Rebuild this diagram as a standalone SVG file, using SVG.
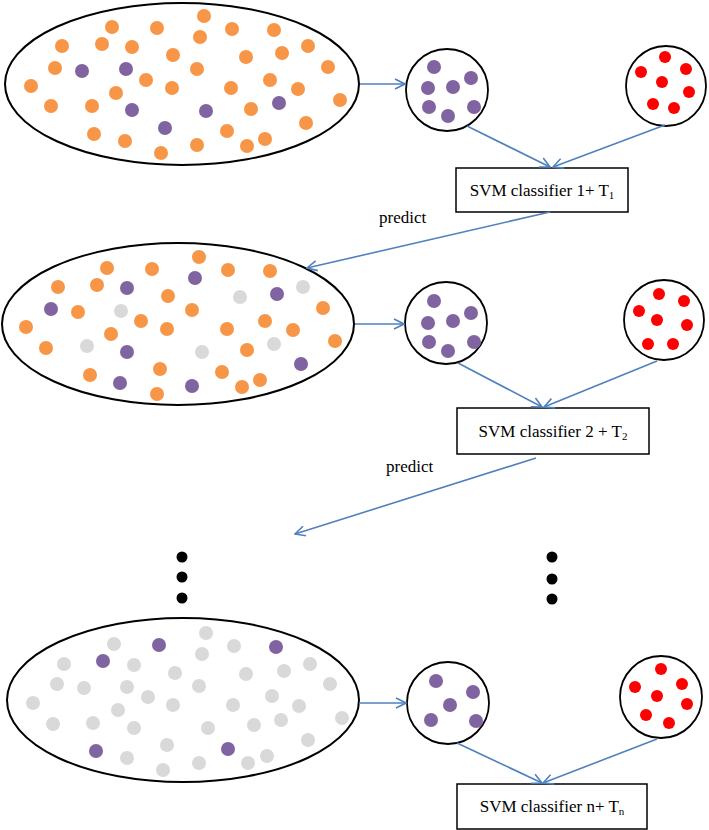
<svg xmlns="http://www.w3.org/2000/svg" width="709" height="830" viewBox="0 0 709 830">
<style>
.bg{fill:#fff}
.pool{fill:#fff;stroke:#000;stroke-width:2}
.set{fill:#fff;stroke:#000;stroke-width:1.8}
.box{fill:#fff;stroke:#000;stroke-width:1.5}
.o{fill:#F79646}
.p{fill:#8064A2}
.g{fill:#D9D9D9}
.r{fill:#FF0000}
.k{fill:#000}
.lbl{font-family:"Liberation Serif","Times New Roman",serif;font-size:17px;fill:#000}
.sub{font-size:11px}
.conn{stroke:#4F81BD;stroke-width:1.6;fill:none;marker-end:url(#ah)}
</style>
<defs>
<marker id="ah" viewBox="0 0 12 12" refX="11" refY="6" markerWidth="12" markerHeight="12" markerUnits="userSpaceOnUse" orient="auto">
<path d="M1,1 L11,6 L1,11" fill="none" stroke="#4F81BD" stroke-width="1.6"/>
</marker>
</defs>
<rect class="bg" x="0" y="0" width="709" height="830"/>

<g id="pool1">
<ellipse class="pool" cx="182" cy="84" rx="177" ry="81"/>
<g class="o">
<circle cx="204" cy="16" r="7"/><circle cx="112" cy="27" r="7"/><circle cx="157" cy="28" r="7"/><circle cx="232" cy="29" r="7"/><circle cx="274" cy="30" r="7"/><circle cx="200" cy="37" r="7"/><circle cx="62" cy="46" r="7"/><circle cx="102" cy="44" r="7"/><circle cx="132" cy="47" r="7"/><circle cx="308" cy="46" r="7"/><circle cx="173" cy="55" r="7"/><circle cx="246" cy="57" r="7"/><circle cx="282" cy="53" r="7"/><circle cx="55" cy="68" r="7"/><circle cx="197" cy="69" r="7"/><circle cx="328" cy="67" r="7"/><circle cx="146" cy="80" r="7"/><circle cx="270" cy="80" r="7"/><circle cx="31" cy="86" r="7"/><circle cx="172" cy="88" r="7"/><circle cx="231" cy="88" r="7"/><circle cx="298" cy="89" r="7"/><circle cx="116" cy="93" r="7"/><circle cx="51" cy="106" r="7"/><circle cx="92" cy="106" r="7"/><circle cx="251" cy="109" r="7"/><circle cx="340" cy="100" r="7"/><circle cx="306" cy="123" r="7"/><circle cx="227" cy="131" r="7"/><circle cx="94" cy="134" r="7"/><circle cx="125" cy="141" r="7"/><circle cx="197" cy="145" r="7"/><circle cx="265" cy="139" r="7"/><circle cx="247" cy="146" r="7"/><circle cx="161" cy="153" r="7"/>
</g>
<g class="p">
<circle cx="82" cy="71" r="7"/><circle cx="126" cy="69" r="7"/><circle cx="132" cy="110" r="7"/><circle cx="206" cy="111" r="7"/><circle cx="279" cy="103" r="7"/><circle cx="165" cy="128" r="7"/>
</g>
</g>

<g id="pos1">
<circle class="set" cx="447" cy="90" r="41"/>
<g class="p">
<circle cx="434" cy="67" r="7"/><circle cx="471" cy="78" r="7"/><circle cx="428" cy="88" r="7"/><circle cx="453" cy="87" r="7"/><circle cx="429" cy="107" r="7"/><circle cx="474" cy="107" r="7"/><circle cx="448" cy="116" r="7"/>
</g>
</g>

<g id="neg1">
<circle class="set" cx="666" cy="86" r="40"/>
<g class="r">
<circle cx="665" cy="57" r="6"/><circle cx="686" cy="69" r="6"/><circle cx="641" cy="72" r="6"/><circle cx="662" cy="82" r="6"/><circle cx="689" cy="92" r="6"/><circle cx="653" cy="104" r="6"/><circle cx="674" cy="108" r="6"/>
</g>
</g>

<g id="box1">
<rect class="box" x="456" y="168" width="172" height="44"/>
<text class="lbl" x="542" y="196" text-anchor="middle">SVM classifier 1+ T<tspan class="sub" dy="3">1</tspan></text>
</g>

<g id="label-predict1"><text class="lbl" x="379" y="223">predict</text></g>

<g id="pool2">
<ellipse class="pool" cx="178" cy="324" rx="176" ry="81"/>
<g class="o">
<circle cx="199" cy="257" r="7"/><circle cx="107" cy="268" r="7"/><circle cx="152" cy="269" r="7"/><circle cx="228" cy="270" r="7"/><circle cx="270" cy="271" r="7"/><circle cx="58" cy="287" r="7"/><circle cx="97" cy="285" r="7"/><circle cx="168" cy="296" r="7"/><circle cx="78" cy="312" r="7"/><circle cx="192" cy="310" r="7"/><circle cx="323" cy="308" r="7"/><circle cx="141" cy="321" r="7"/><circle cx="265" cy="321" r="7"/><circle cx="26" cy="327" r="7"/><circle cx="167" cy="329" r="7"/><circle cx="227" cy="329" r="7"/><circle cx="293" cy="330" r="7"/><circle cx="111" cy="334" r="7"/><circle cx="46" cy="348" r="7"/><circle cx="247" cy="350" r="7"/><circle cx="335" cy="341" r="7"/><circle cx="160" cy="369" r="7"/><circle cx="90" cy="375" r="7"/><circle cx="222" cy="372" r="7"/><circle cx="260" cy="380" r="7"/><circle cx="242" cy="387" r="7"/><circle cx="157" cy="394" r="7"/>
</g>
<g class="p">
<circle cx="195" cy="278" r="7"/><circle cx="127" cy="288" r="7"/><circle cx="277" cy="294" r="7"/><circle cx="51" cy="309" r="7"/><circle cx="127" cy="352" r="7"/><circle cx="301" cy="364" r="7"/><circle cx="120" cy="383" r="7"/><circle cx="192" cy="386" r="7"/>
</g>
<g class="g">
<circle cx="303" cy="287" r="7"/><circle cx="240" cy="297" r="7"/><circle cx="121" cy="311" r="7"/><circle cx="87" cy="346" r="7"/><circle cx="202" cy="352" r="7"/><circle cx="274" cy="344" r="7"/>
</g>
</g>

<g id="pos2">
<circle class="set" cx="446" cy="323" r="41"/>
<g class="p">
<circle cx="434" cy="301" r="7"/><circle cx="471" cy="313" r="7"/><circle cx="428" cy="323" r="7"/><circle cx="453" cy="321" r="7"/><circle cx="429" cy="342" r="7"/><circle cx="474" cy="342" r="7"/><circle cx="448" cy="351" r="7"/>
</g>
</g>

<g id="neg2">
<circle class="set" cx="664" cy="320" r="40"/>
<g class="r">
<circle cx="659" cy="294" r="6"/><circle cx="684" cy="301" r="6"/><circle cx="639" cy="311" r="6"/><circle cx="657" cy="320" r="6"/><circle cx="687" cy="325" r="6"/><circle cx="648" cy="344" r="6"/><circle cx="673" cy="344" r="6"/>
</g>
</g>

<g id="box2">
<rect class="box" x="457" y="408" width="192" height="46"/>
<text class="lbl" x="553" y="437" text-anchor="middle">SVM classifier 2 + T<tspan class="sub" dy="3">2</tspan></text>
</g>

<g id="label-predict2"><text class="lbl" x="386" y="472">predict</text></g>

<g id="ellipsis-left" class="k">
<circle cx="182" cy="557" r="5.5"/><circle cx="182" cy="577" r="5.5"/><circle cx="182" cy="598" r="5.5"/>
</g>
<g id="ellipsis-right" class="k">
<circle cx="552" cy="557" r="5.5"/><circle cx="552" cy="579" r="5.5"/><circle cx="552" cy="599" r="5.5"/>
</g>

<g id="pool3">
<ellipse class="pool" cx="183" cy="700" rx="176" ry="82"/>
<g class="g">
<circle cx="206" cy="633" r="7"/><circle cx="114" cy="644" r="7"/><circle cx="234" cy="646" r="7"/><circle cx="202" cy="654" r="7"/><circle cx="64" cy="664" r="7"/><circle cx="134" cy="665" r="7"/><circle cx="310" cy="664" r="7"/><circle cx="175" cy="673" r="7"/><circle cx="246" cy="674" r="7"/><circle cx="284" cy="671" r="7"/><circle cx="57" cy="684" r="7"/><circle cx="84" cy="688" r="7"/><circle cx="127" cy="687" r="7"/><circle cx="199" cy="686" r="7"/><circle cx="330" cy="684" r="7"/><circle cx="148" cy="697" r="7"/><circle cx="272" cy="696" r="7"/><circle cx="33" cy="703" r="7"/><circle cx="173" cy="705" r="7"/><circle cx="233" cy="705" r="7"/><circle cx="299" cy="706" r="7"/><circle cx="118" cy="710" r="7"/><circle cx="53" cy="724" r="7"/><circle cx="93" cy="723" r="7"/><circle cx="134" cy="728" r="7"/><circle cx="208" cy="728" r="7"/><circle cx="254" cy="725" r="7"/><circle cx="281" cy="720" r="7"/><circle cx="342" cy="718" r="7"/><circle cx="308" cy="740" r="7"/><circle cx="167" cy="745" r="7"/><circle cx="127" cy="758" r="7"/><circle cx="199" cy="763" r="7"/><circle cx="248" cy="763" r="7"/><circle cx="267" cy="756" r="7"/><circle cx="163" cy="770" r="7"/>
</g>
<g class="p">
<circle cx="159" cy="645" r="7"/><circle cx="276" cy="647" r="7"/><circle cx="103" cy="661" r="7"/><circle cx="96" cy="751" r="7"/><circle cx="228" cy="749" r="7"/>
</g>
</g>

<g id="pos3">
<circle class="set" cx="448" cy="703" r="41"/>
<g class="p">
<circle cx="436" cy="681" r="7"/><circle cx="473" cy="692" r="7"/><circle cx="450" cy="705" r="7"/><circle cx="431" cy="720" r="7"/><circle cx="476" cy="721" r="7"/>
</g>
</g>

<g id="neg3">
<circle class="set" cx="661" cy="697" r="41"/>
<g class="r">
<circle cx="661" cy="669" r="6"/><circle cx="682" cy="684" r="6"/><circle cx="635" cy="687" r="6"/><circle cx="657" cy="696" r="6"/><circle cx="687" cy="704" r="6"/><circle cx="646" cy="715" r="6"/><circle cx="669" cy="723" r="6"/>
</g>
</g>

<g id="box3">
<rect class="box" x="457" y="784" width="190" height="45"/>
<text class="lbl" x="552" y="812" text-anchor="middle">SVM classifier n+ T<tspan class="sub" dy="3">n</tspan></text>
</g>

<g id="connectors">
<line class="conn" x1="360" y1="84" x2="405" y2="84"/>
<line class="conn" x1="467" y1="126" x2="550" y2="167"/>
<line class="conn" x1="665" y1="125" x2="553" y2="167"/>
<line class="conn" x1="550" y1="212" x2="307" y2="268"/>
<line class="conn" x1="355" y1="324" x2="404" y2="324"/>
<line class="conn" x1="458" y1="363" x2="542" y2="407"/>
<line class="conn" x1="657" y1="361" x2="544" y2="407"/>
<line class="conn" x1="536" y1="458" x2="295" y2="534"/>
<line class="conn" x1="359" y1="703" x2="406" y2="703"/>
<line class="conn" x1="457" y1="743" x2="542" y2="783"/>
<line class="conn" x1="657" y1="739" x2="543" y2="783"/>
</g>
</svg>
